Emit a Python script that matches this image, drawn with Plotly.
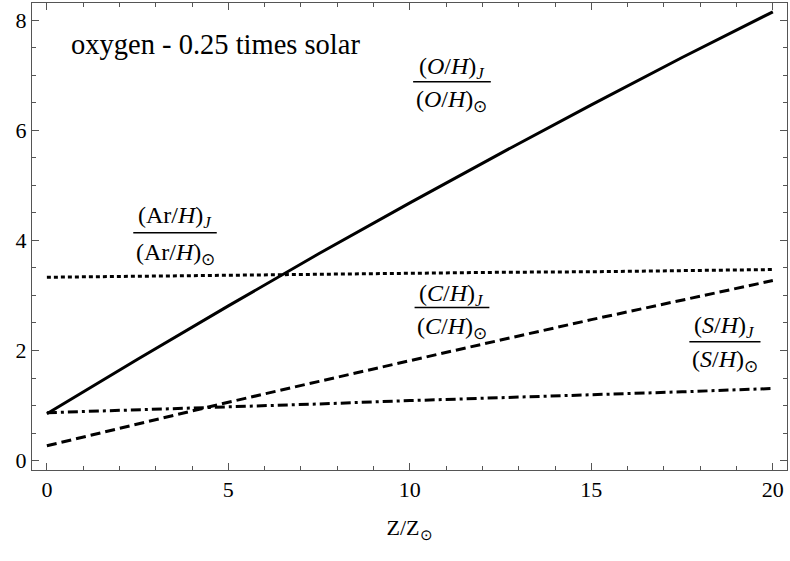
import plotly.graph_objects as go

z = [0, 2.5, 5, 7.5, 10, 12.5, 15, 17.5, 20]
oxygen = [0.85, 1.84, 2.81, 3.76, 4.68, 5.58, 6.46, 7.32, 8.15]
argon = [3.33, 3.35, 3.36, 3.38, 3.40, 3.42, 3.43, 3.45, 3.47]
carbon = [0.27, 0.67, 1.06, 1.44, 1.82, 2.19, 2.56, 2.92, 3.27]
sulfur = [0.87, 0.92, 0.98, 1.03, 1.09, 1.14, 1.20, 1.25, 1.31]

x_ticks = [0, 5, 10, 15, 20]
y_ticks = [0, 2, 4, 6, 8]
title_text = "oxygen - 0.25 times solar"

FONT = "Times New Roman, Liberation Serif, serif"

fig = go.Figure()
styles = [
    (oxygen, "solid"),
    (argon, "4px,3px"),
    (carbon, "10px,5px"),
    (sulfur, "10px,4px,3px,4px"),
]
for ys, dash in styles:
    fig.add_trace(go.Scatter(x=z, y=ys, mode="lines",
                             line=dict(color="black", width=3, dash=dash),
                             showlegend=False, hoverinfo="skip"))

# fraction labels: (element, center x, numerator y, bar y, denominator y, bar half width)
labels = [
    ("<i>O</i>", 11.16, 7.13, 6.88, 6.53, 1.07),
    ("Ar", 3.53, 4.43, 4.14, 3.76, 1.15),
    ("<i>C</i>", 11.16, 3.01, 2.78, 2.41, 1.03),
    ("<i>S</i>", 18.68, 2.43, 2.16, 1.81, 0.98),
]
for el, cx, ny, by, dy, hw in labels:
    fig.add_annotation(x=cx, y=ny, xref="x", yref="y", showarrow=False,
                       text=f"({el}/<i>H</i>)<sub><i>J</i></sub>",
                       font=dict(family=FONT, size=24, color="black"))
    fig.add_annotation(x=cx, y=dy, xref="x", yref="y", showarrow=False,
                       text=f"({el}/<i>H</i>)<sub>⊙</sub>",
                       font=dict(family=FONT, size=24, color="black"))
    fig.add_shape(type="line", xref="x", yref="y", x0=cx - hw, x1=cx + hw,
                  y0=by, y1=by, line=dict(color="black", width=1.5))

fig.add_annotation(x=0.6, y=7.55, xref="x", yref="y", showarrow=False,
                   xanchor="left", text=title_text,
                   font=dict(family=FONT, size=28.5, color="black"))

axis_common = dict(showgrid=False, zeroline=False, showline=True,
                   linecolor="#555", linewidth=1, mirror="allticks",
                   ticks="inside", ticklen=7, tickwidth=1, tickcolor="#555",
                   tickfont=dict(family=FONT, size=22, color="black"))

fig.update_xaxes(range=[-0.41, 20.39], tickvals=x_ticks,
                 minor=dict(dtick=1, ticks="inside", ticklen=4, tickcolor="#555"),
                 title=dict(text="Z/Z<sub>⊙</sub>", font=dict(family=FONT, size=22, color="black"),
                            standoff=18),
                 **axis_common)
fig.update_yaxes(range=[-0.17, 8.31], tickvals=y_ticks,
                 minor=dict(dtick=0.5, ticks="inside", ticklen=4, tickcolor="#555"),
                 **axis_common)

fig.update_layout(width=790, height=561, plot_bgcolor="white", paper_bgcolor="white",
                  margin=dict(l=32, r=3, t=3, b=91),
                  font=dict(family=FONT, color="black"))

fig.write_html("out.html", config={"displayModeBar": False},
               post_script="document.body.style.margin='0';document.body.style.overflow='hidden';")
